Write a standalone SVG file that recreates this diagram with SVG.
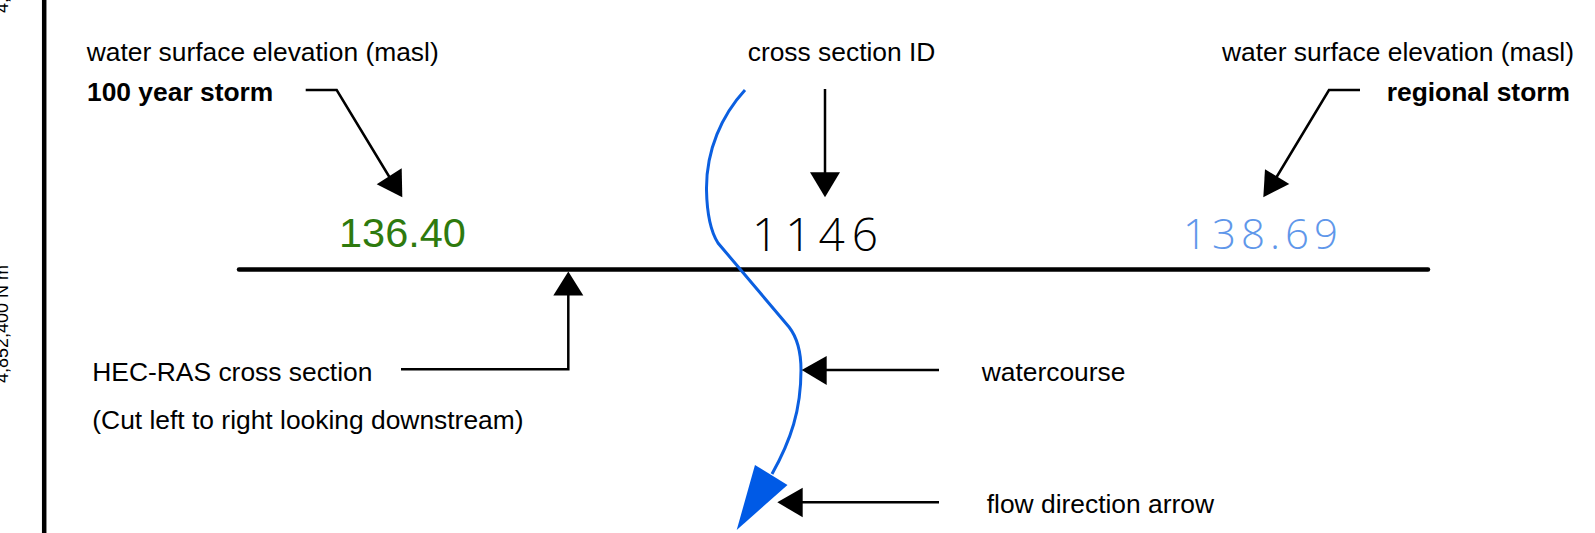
<svg xmlns="http://www.w3.org/2000/svg" width="1595" height="533" viewBox="0 0 1595 533">
<style>
.lbl{font-family:"Liberation Sans",Arial,sans-serif;font-size:26.4px;fill:#000}
.b{font-weight:bold}
.ld{fill:none;stroke:#000;stroke-width:2.5}
.hd{fill:#000}
.num{font-family:"Open Sans",sans-serif;font-weight:300}
</style>
<rect width="1595" height="533" fill="#fff"/>
<g id="frame">
<line x1="44.2" y1="0" x2="44.2" y2="533" stroke="#000" stroke-width="4.5"/>
<text transform="translate(7.5,383) rotate(-90)" font-family="Liberation Sans,Arial,sans-serif" font-size="18">4,852,400 N m</text>
<text transform="translate(7.5,13) rotate(-90)" font-family="Liberation Sans,Arial,sans-serif" font-size="18">4,</text>
</g>
<g id="cross-section">
<line x1="239" y1="269.5" x2="1428" y2="269.5" stroke="#000" stroke-width="4.5" stroke-linecap="round"/>
</g>
<g id="watercourse-line">
<path d="M745,90 C722,115 706,150 706.5,190 C707,215 711,232 718,243 L789,327 C796,336 801,350 801,370 C801,410 791,440 772,474" fill="none" stroke="#0b5fe0" stroke-width="3"/>
<polygon points="755,465 787.5,485 736.7,530" fill="#005ae6"/>
</g>
<g id="label-100yr">
<text class="lbl" x="86.7" y="61">water surface elevation (masl)</text>
<text class="lbl b" x="87" y="100.5">100 year storm</text>
</g>
<g id="value-100yr">
<text x="339" y="246.7" font-family="Liberation Sans,Arial,sans-serif" font-size="41.5" fill="#2e7a0e">136.40</text>
</g>
<g id="label-id">
<text class="lbl" x="747.7" y="61">cross section ID</text>
</g>
<g id="value-id">
<text class="num" x="752" y="250.7" font-size="46" letter-spacing="7" fill="#000">1146</text>
</g>
<g id="label-regional">
<text class="lbl" x="1574" y="61" text-anchor="end">water surface elevation (masl)</text>
<text class="lbl b" x="1570" y="100.5" text-anchor="end">regional storm</text>
</g>
<g id="value-regional">
<text class="num" x="1183" y="249.3" font-size="42" letter-spacing="5" fill="#5f97ea">138.69</text>
</g>
<g id="label-hecras">
<text class="lbl" x="92.3" y="381">HEC-RAS cross section</text>
<text class="lbl" x="92.3" y="428.5">(Cut left to right looking downstream)</text>
</g>
<g id="label-watercourse">
<text class="lbl" x="981.7" y="380.5">watercourse</text>
</g>
<g id="label-flow">
<text class="lbl" x="986.7" y="513.3">flow direction arrow</text>
</g>
<g id="connectors">
<polyline class="ld" points="305.7,90 336.7,90 390,178"/>
<polygon class="hd" points="402.3,197.3 376.7,184.3 401.7,168.3"/>
<polyline class="ld" points="1360,90 1329,90 1276,178"/>
<polygon class="hd" points="1263.3,197.3 1265,169.3 1289.3,184"/>
<line class="ld" x1="825" y1="89" x2="825" y2="174"/>
<polygon class="hd" points="810,172.3 840,172.3 825,197.3"/>
<polyline class="ld" points="401,369.3 568.3,369.3 568.3,294"/>
<polygon class="hd" points="568.3,271.5 553.3,295.5 583.3,295.5"/>
<line class="ld" x1="825" y1="370" x2="939" y2="370"/>
<polygon class="hd" points="801.7,370 826.7,356 826.7,385"/>
<line class="ld" x1="801" y1="502.3" x2="939" y2="502.3"/>
<polygon class="hd" points="777.3,502.3 802.7,487.7 802.7,517.3"/>
</g>
</svg>
